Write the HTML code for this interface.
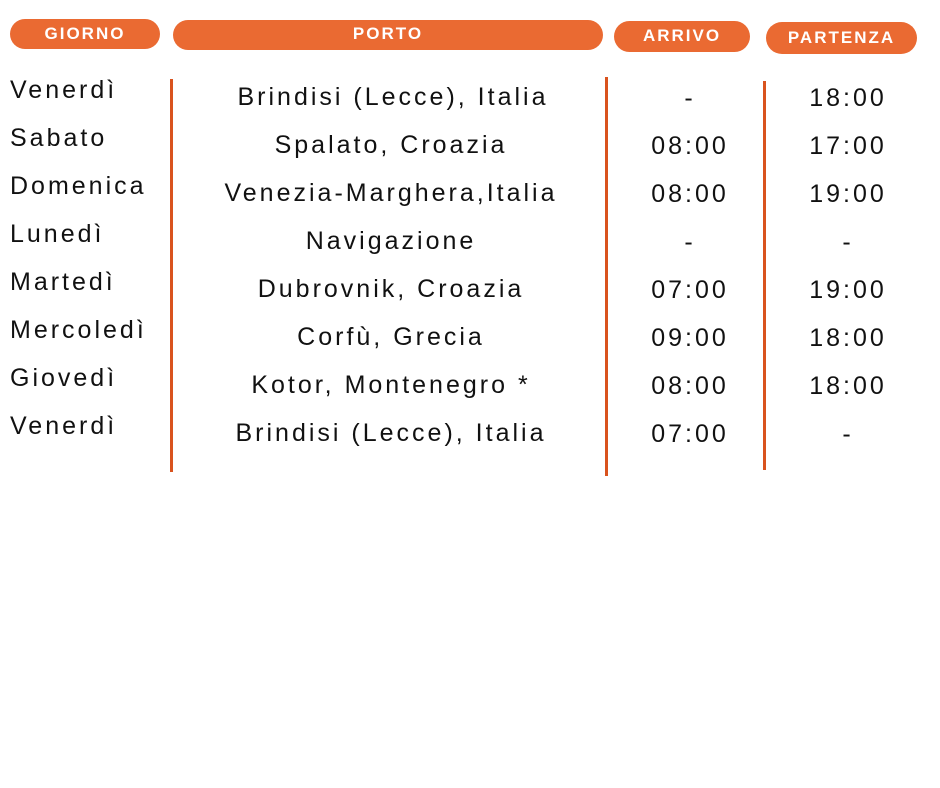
<!DOCTYPE html>
<html><head><meta charset="utf-8"><style>
body{margin:0;width:940px;height:788px;background:#fff;position:relative;overflow:hidden;font-family:"Liberation Sans",sans-serif;color:#111}
.p{position:absolute;background:#EA6A32;border-radius:16px;color:#fff;font-weight:bold;font-size:17px;letter-spacing:2px;text-align:center;font-family:"Comic Sans MS","Liberation Sans",sans-serif}
.t{position:absolute;font-size:25px;letter-spacing:3px;line-height:28px;white-space:nowrap}
.c{transform:translateX(-50%)}
.l{position:absolute;width:3px;background:#D9531E}
</style></head><body>
<div class="p" style="left:10px;top:19px;width:150px;height:30px;line-height:30px">GIORNO</div>
<div class="p" style="left:173px;top:20px;width:430px;height:30px;line-height:28px">PORTO</div>
<div class="p" style="left:614px;top:21px;width:136px;height:31px;line-height:29px">ARRIVO</div>
<div class="p" style="left:766px;top:22px;width:151px;height:32px;line-height:32px">PARTENZA</div>
<div class="l" style="left:170px;top:79px;height:393px"></div>
<div class="l" style="left:605px;top:77px;height:399px"></div>
<div class="l" style="left:763px;top:81px;height:389px"></div>

<div class="t" style="left:10px;top:76px">Venerdì</div>
<div class="t" style="left:10px;top:124px">Sabato</div>
<div class="t" style="left:10px;top:172px">Domenica</div>
<div class="t" style="left:10px;top:220px">Lunedì</div>
<div class="t" style="left:10px;top:268px">Martedì</div>
<div class="t" style="left:10px;top:316px">Mercoledì</div>
<div class="t" style="left:10px;top:364px">Giovedì</div>
<div class="t" style="left:10px;top:412px">Venerdì</div>

<div class="t c" style="left:393px;top:83px">Brindisi (Lecce), Italia</div>
<div class="t c" style="left:391px;top:131px">Spalato, Croazia</div>
<div class="t c" style="left:391px;top:179px">Venezia-Marghera,Italia</div>
<div class="t c" style="left:391px;top:227px">Navigazione</div>
<div class="t c" style="left:391px;top:275px">Dubrovnik, Croazia</div>
<div class="t c" style="left:391px;top:323px">Corfù, Grecia</div>
<div class="t c" style="left:391px;top:371px">Kotor, Montenegro *</div>
<div class="t c" style="left:391px;top:419px">Brindisi (Lecce), Italia</div>

<div class="t c" style="left:690px;top:84px">-</div>
<div class="t c" style="left:690px;top:132px">08:00</div>
<div class="t c" style="left:690px;top:180px">08:00</div>
<div class="t c" style="left:690px;top:228px">-</div>
<div class="t c" style="left:690px;top:276px">07:00</div>
<div class="t c" style="left:690px;top:324px">09:00</div>
<div class="t c" style="left:690px;top:372px">08:00</div>
<div class="t c" style="left:690px;top:420px">07:00</div>

<div class="t c" style="left:848px;top:84px">18:00</div>
<div class="t c" style="left:848px;top:132px">17:00</div>
<div class="t c" style="left:848px;top:180px">19:00</div>
<div class="t c" style="left:848px;top:228px">-</div>
<div class="t c" style="left:848px;top:276px">19:00</div>
<div class="t c" style="left:848px;top:324px">18:00</div>
<div class="t c" style="left:848px;top:372px">18:00</div>
<div class="t c" style="left:848px;top:420px">-</div>
</body></html>
